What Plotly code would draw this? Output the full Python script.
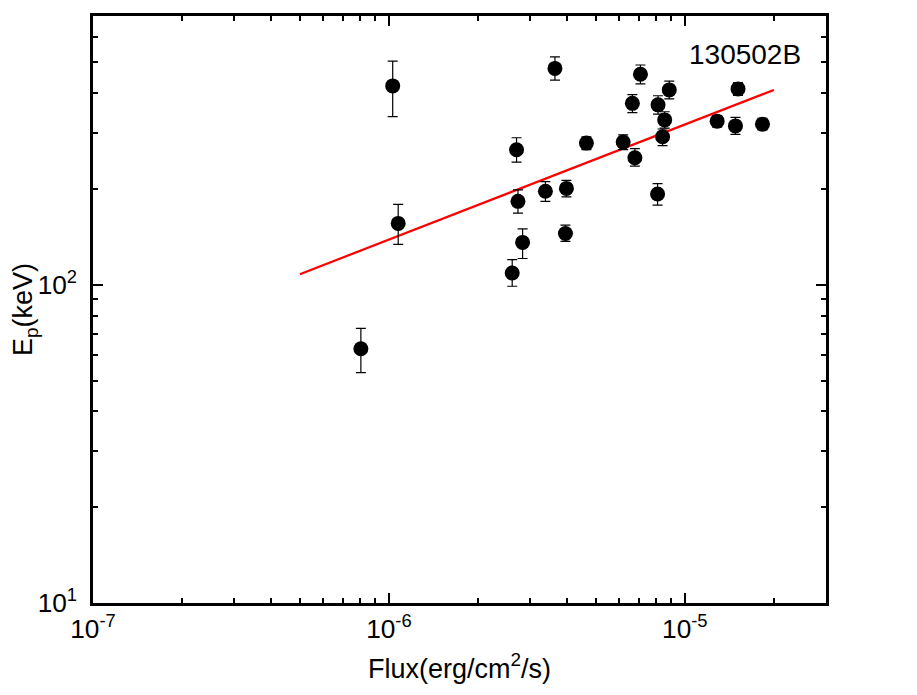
import numpy as np
import plotly.graph_objects as go

# Data (Flux in erg/cm^2/s, Ep in keV)
flux = [1.03e-6, 1.075e-6, 3.64e-6, 2.70e-6, 2.73e-6, 2.83e-6, 2.61e-6, 3.38e-6,
        3.98e-6, 3.95e-6, 4.65e-6, 6.19e-6, 6.78e-6, 6.65e-6, 7.08e-6, 8.12e-6,
        8.09e-6, 8.55e-6, 8.41e-6, 8.86e-6, 1.286e-5, 1.483e-5, 1.513e-5, 1.83e-5,
        8.04e-7]
ep = [422, 156, 479, 266, 183, 136, 109, 197,
      201, 145, 279, 281, 251, 372, 459, 368,
      193, 330, 292, 410, 327, 316, 413, 320,
      63]
ep_err_plus = [83, 23, 42, 24, 16, 14, 11, 14,
               12, 9, 13, 15, 17, 24, 32, 25,
               15, 20, 17, 27, 13, 20, 19, 14,
               10]
ep_err_minus = [84, 22, 39, 23, 15, 15, 10, 14,
                12, 8, 13, 15, 15, 24, 31, 24,
                15, 19, 18, 26, 14, 19, 19, 13,
                10]

# Best-fit line endpoints
fit_flux = [5.0e-7, 2.0e-5]
fit_ep = [108, 410]

# Tick label aliases (plotly default text -> reference text)
x_alias = {"10<sup>\u22127</sup>": "10<sup>-7</sup>",
           "10<sup>\u22126</sup>": "10<sup>-6</sup>",
           "10<sup>\u22125</sup>": "10<sup>-5</sup>"}
y_alias = {"10": "10<sup>1</sup>"}

label = "130502B"

FONT = "Liberation Sans, Arial, sans-serif"
TICKFONT = dict(family=FONT, size=21, color="black")

fig = go.Figure()
fig.add_trace(go.Scatter(
    x=fit_flux, y=fit_ep, mode="lines",
    line=dict(color="#ff0000", width=2.2),
    showlegend=False, hoverinfo="skip"))
fig.add_trace(go.Scatter(
    x=flux, y=ep, mode="markers",
    marker=dict(color="black", size=15, symbol="circle"),
    error_y=dict(type="data", symmetric=False, array=ep_err_plus,
                 arrayminus=ep_err_minus, color="black", thickness=1.2, width=5),
    showlegend=False))

axis_common = dict(
    type="log", showline=True, linecolor="black", linewidth=2.5,
    mirror="allticks", ticks="inside", ticklen=10, tickwidth=2, tickcolor="black",
    showgrid=False, zeroline=False, tickmode="linear", dtick=1,
    exponentformat="power", showexponent="all", tickfont=TICKFONT,
    minor=dict(ticks="inside", ticklen=5, tickwidth=2, tickcolor="black",
               dtick="D1", showgrid=False),
)

fig.update_layout(
    width=909, height=687,
    margin=dict(l=85, r=91, t=5, b=92),
    paper_bgcolor="white", plot_bgcolor="white",
    font=dict(family=FONT, size=21, color="black"),
    xaxis=dict(**axis_common, range=[-7, np.log10(3e-5)], labelalias=x_alias,
               ticklabelstandoff=2,
               title=dict(text="Flux(erg/cm<sup>2</sup>/s)",
                          font=dict(family=FONT, size=27, color="black"),
                          standoff=16)),
    yaxis=dict(**axis_common, range=[1, np.log10(700)], labelalias=y_alias,
               ticklabelstandoff=9,
               title=dict(text="E<sub>p</sub>(keV)",
                          font=dict(family=FONT, size=27, color="black"),
                          standoff=2)),
)

fig.add_annotation(x=0.889, y=0.935, xref="paper", yref="paper",
                   xanchor="center", yanchor="middle",
                   text=label, showarrow=False,
                   font=dict(family=FONT, size=28, color="black"))

fig.write_html("out.html")
